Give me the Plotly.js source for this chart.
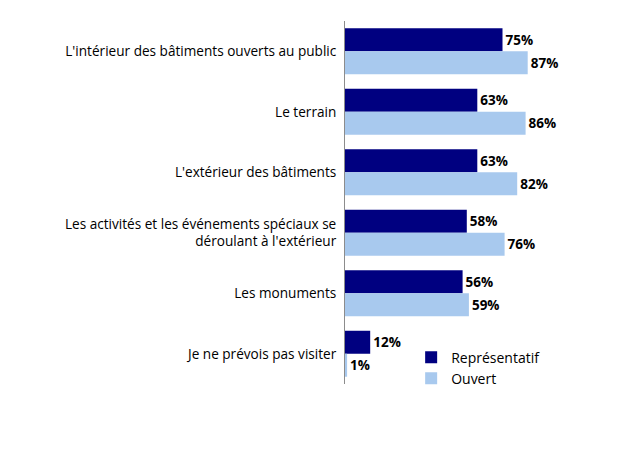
<!DOCTYPE html>
<html><head><meta charset="utf-8">
<script src="https://cdn.plot.ly/plotly-3.0.1.min.js"></script>
<style>body{margin:0;background:#fff}#c{width:624px;height:468px}</style>
</head><body><div id="c"></div>
<script>
const categories = [
  "L'intérieur des bâtiments ouverts au public",
  "Le terrain",
  "L'extérieur des bâtiments",
  "Les activités et les événements spéciaux se<br>déroulant à l'extérieur",
  "Les monuments",
  "Je ne prévois pas visiter"
];
const representatif = [75, 63, 63, 58, 56, 12];
const ouvert = [87, 86, 82, 76, 59, 1];
const seriesNames = ["Représentatif", "Ouvert"];
const colors = ["#000080", "#A8C9EE"];

const mk = (vals, i) => ({
  type: 'bar', orientation: 'h', name: seriesNames[i],
  y: categories, x: vals,
  marker: {color: colors[i]},
  text: vals.map(v => v + '%'), textposition: 'outside',
  textfont: {family: 'Open Sans', size: 13.5, color: '#000', weight: 'bold'},
  cliponaxis: false, hoverinfo: 'skip'
});

Plotly.newPlot('c', [mk(representatif, 0), mk(ouvert, 1)], {
  width: 624, height: 468,
  margin: {l: 345, r: 69, t: 21, b: 84},
  paper_bgcolor: '#fff', plot_bgcolor: '#fff',
  barmode: 'group', bargap: 0.24, bargroupgap: 0,
  font: {family: 'Open Sans', size: 13.6, color: '#000'},
  xaxis: {range: [0, 100], visible: false, fixedrange: true},
  yaxis: {autorange: 'reversed', showline: true, linecolor: '#8c8c8c', linewidth: 1,
          ticks: '', ticklabelstandoff: 5, showgrid: false, zeroline: false,
          tickfont: {family: 'Open Sans', size: 13.6, color: '#000'}},
  showlegend: true,
  legend: {x: 0.315, y: 0.117, xanchor: 'left', yanchor: 'top',
           font: {family: 'Open Sans', size: 14, color: '#000'},
           traceorder: 'normal', itemwidth: 30, bgcolor: 'rgba(0,0,0,0)'}
}, {displayModeBar: false, staticPlot: true});
</script></body></html>
